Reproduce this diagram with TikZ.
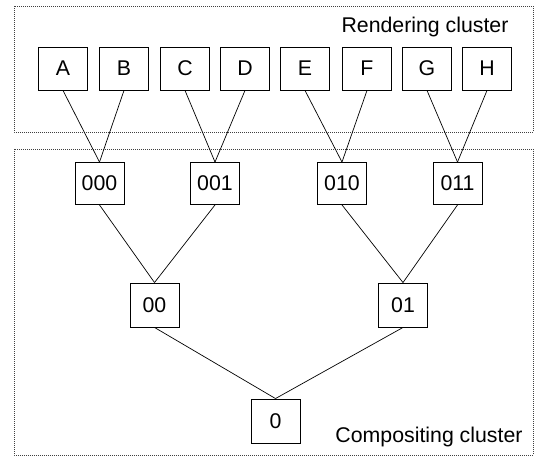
\documentclass[tikz,border=0pt]{standalone}
\usepackage{fontspec}
\setmainfont{Liberation Sans}
\begin{document}
\begin{tikzpicture}[x=1pt,y=-1pt,
  box/.style={draw,line width=0.9pt,minimum width=49pt,minimum height=43pt,inner sep=0pt,font=\fontsize{21.3}{24}\selectfont},
  cluster/.style={draw=black!75,line width=0.7pt,dash pattern=on 0.9pt off 1.1pt},
  label/.style={inner sep=0pt,anchor=base,font=\fontsize{21.3}{24}\selectfont},
  link/.style={line width=0.7pt}]
\useasboundingbox (0,0) rectangle (535,473);
\draw[cluster] (14,6) rectangle (533,132);
\draw[cluster] (14,149) rectangle (533,455);
\node[label] (rl) at (425,33) {Rendering cluster};
\node[label] (cl) at (429,442) {Compositing cluster};
% leaves
\node[box] (A) at (63,68.5) {A};
\node[box] (B) at (124,68.5) {B};
\node[box] (C) at (185,68.5) {C};
\node[box] (D) at (245,68.5) {D};
\node[box] (E) at (305,68.5) {E};
\node[box] (F) at (367,68.5) {F};
\node[box] (G) at (427,68.5) {G};
\node[box] (H) at (487,68.5) {H};
% level 3
\node[box,minimum height=42pt] (n000) at (99.5,183.5) {000};
\node[box,minimum height=42pt] (n001) at (215,183.5) {001};
\node[box,minimum height=42pt] (n010) at (342,183.5) {010};
\node[box,minimum height=42pt] (n011) at (457.5,183.5) {011};
% level 2
\node[box,minimum height=44pt] (n00) at (154.5,305) {00};
\node[box,minimum height=44pt] (n01) at (403,305) {01};
% root
\node[box,minimum height=44pt] (n0) at (275.5,421) {0};
% links
\draw[link] (A.south) -- (n000.north);
\draw[link] (B.south) -- (n000.north);
\draw[link] (C.south) -- (n001.north);
\draw[link] (D.south) -- (n001.north);
\draw[link] (E.south) -- (n010.north);
\draw[link] (F.south) -- (n010.north);
\draw[link] (G.south) -- (n011.north);
\draw[link] (H.south) -- (n011.north);
\draw[link] (n000.south) -- (n00.north);
\draw[link] (n001.south) -- (n00.north);
\draw[link] (n010.south) -- (n01.north);
\draw[link] (n011.south) -- (n01.north);
\draw[link] (n00.south) -- (n0.north);
\draw[link] (n01.south) -- (n0.north);
\end{tikzpicture}
\end{document}
